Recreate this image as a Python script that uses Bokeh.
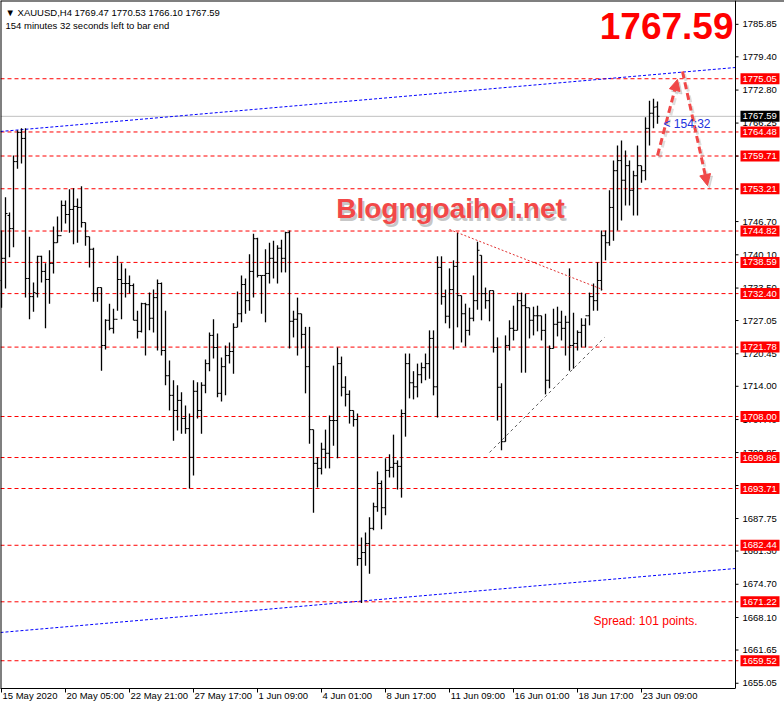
from bokeh.plotting import figure
from bokeh.models import (Range1d, FixedTicker, Label, Span, Arrow, NormalHead, ColumnDataSource)
from bokeh.embed import file_html
from bokeh.resources import INLINE
from bokeh.core.properties import value

# ---------------- data (XAUUSD H4) ----------------
opens = [1735.0, 1739.4, 1747.9, 1745.3, 1758.6, 1764.4, 1763.2, 1735.4, 1731.8, 1732.4,
         1739.8, 1736.8, 1735.2, 1738.4, 1742.5, 1743.9, 1749.9, 1748.1, 1749.1, 1749.7,
         1749.5, 1746.5, 1743.7, 1741.2, 1732.4, 1733.6, 1722.1, 1727.1, 1725.5, 1727.3,
         1735.2, 1734.4, 1734.4, 1734.0, 1727.1, 1724.9, 1730.4, 1730.2, 1727.5, 1731.6,
         1734.4, 1721.1, 1716.1, 1712.2, 1709.2, 1711.2, 1707.6, 1705.6, 1699.9, 1713.0,
         1709.2, 1714.2, 1718.5, 1724.1, 1721.7, 1712.6, 1717.9, 1720.1, 1720.9, 1725.7,
         1728.4, 1734.2, 1731.0, 1736.8, 1743.3, 1736.0, 1736.0, 1736.4, 1739.4, 1738.6,
         1741.4, 1739.4, 1744.5, 1726.9, 1727.3, 1728.4, 1724.3, 1717.9, 1705.4, 1698.7,
         1697.7, 1701.5, 1700.7, 1707.2, 1707.2, 1718.5, 1713.8, 1712.4, 1709.2, 1707.4,
         1679.8, 1681.0, 1682.8, 1685.8, 1690.1, 1694.7, 1689.9, 1697.3, 1697.9, 1698.7,
         1698.1, 1708.6, 1718.5, 1714.7, 1713.9, 1716.3, 1717.7, 1718.5, 1723.5, 1713.9,
         1737.6, 1731.8, 1727.9, 1733.2, 1737.8, 1732.0, 1728.4, 1725.1, 1727.5, 1731.0,
         1740.0, 1732.4, 1731.0, 1733.0, 1721.7, 1713.8, 1703.0, 1722.1, 1725.5, 1725.1,
         1731.0, 1730.0, 1729.6, 1727.1, 1728.0, 1728.0, 1725.1, 1715.2, 1721.5, 1726.3,
         1726.7, 1725.5, 1726.7, 1722.1, 1722.5, 1724.7, 1726.1, 1728.0, 1731.8, 1731.0,
         1735.0, 1743.9, 1742.5, 1749.5, 1756.8, 1758.8, 1754.9, 1757.8, 1752.9, 1755.8,
         1757.8, 1756.8, 1765.2, 1768.2, 1769.47]
highs = [1744.9, 1751.5, 1748.5, 1759.8, 1764.8, 1765.2, 1765.2, 1743.7, 1734.6, 1739.9,
         1739.9, 1738.4, 1741.0, 1745.7, 1747.7, 1750.9, 1750.9, 1753.1, 1753.3, 1751.3,
         1753.7, 1746.5, 1743.7, 1741.5, 1733.6, 1733.6, 1727.3, 1730.4, 1729.4, 1739.9,
         1738.4, 1737.4, 1736.0, 1734.4, 1729.0, 1730.6, 1730.6, 1732.6, 1733.2, 1735.2,
         1734.6, 1729.0, 1719.1, 1715.2, 1714.2, 1712.8, 1710.2, 1708.6, 1715.2, 1714.8,
         1714.8, 1719.3, 1724.7, 1727.3, 1724.5, 1719.7, 1722.1, 1722.7, 1726.5, 1732.8,
         1736.0, 1735.4, 1740.2, 1744.3, 1743.5, 1736.0, 1741.2, 1742.5, 1742.9, 1742.0,
         1743.1, 1744.7, 1744.9, 1729.0, 1731.6, 1728.4, 1725.8, 1725.8, 1705.4, 1699.9,
         1702.8, 1705.4, 1708.2, 1718.1, 1721.7, 1719.9, 1716.0, 1713.2, 1709.2, 1708.6,
         1684.0, 1685.0, 1688.0, 1690.9, 1697.1, 1695.3, 1699.7, 1700.5, 1704.4, 1699.3,
         1709.4, 1720.5, 1720.5, 1717.0, 1718.5, 1718.7, 1720.5, 1725.1, 1725.1, 1739.8,
         1739.8, 1733.2, 1737.4, 1739.0, 1744.5, 1732.0, 1730.4, 1729.6, 1736.0, 1742.7,
         1740.0, 1733.6, 1733.0, 1733.0, 1723.7, 1714.6, 1724.1, 1727.1, 1730.0, 1732.6,
         1732.6, 1732.4, 1729.6, 1729.8, 1730.0, 1728.0, 1728.4, 1722.1, 1729.4, 1729.8,
         1729.0, 1728.0, 1737.4, 1728.6, 1725.1, 1727.5, 1727.5, 1732.6, 1734.4, 1738.6,
         1744.9, 1744.9, 1752.9, 1758.8, 1761.8, 1762.8, 1760.8, 1758.8, 1756.8, 1761.8,
         1757.8, 1767.4, 1770.7, 1771.1, 1770.53]
lows = [1729.6, 1733.4, 1739.6, 1741.6, 1757.2, 1758.2, 1731.6, 1727.3, 1728.8, 1731.6,
        1734.6, 1725.5, 1730.4, 1736.4, 1742.5, 1744.7, 1746.3, 1744.5, 1742.2, 1742.5,
        1745.5, 1741.9, 1737.6, 1730.8, 1730.8, 1717.1, 1721.3, 1725.1, 1724.5, 1729.0,
        1727.3, 1731.6, 1732.4, 1727.1, 1723.5, 1724.7, 1720.1, 1725.1, 1724.7, 1721.1,
        1720.1, 1714.2, 1709.2, 1703.2, 1705.2, 1704.6, 1704.6, 1693.7, 1696.3, 1707.6,
        1704.6, 1712.6, 1717.0, 1719.5, 1711.8, 1711.0, 1712.2, 1718.5, 1716.5, 1725.7,
        1726.7, 1728.4, 1729.0, 1731.6, 1735.6, 1728.4, 1726.7, 1734.4, 1735.4, 1734.4,
        1736.6, 1736.6, 1721.5, 1723.7, 1720.1, 1721.5, 1712.6, 1702.6, 1688.9, 1693.9,
        1696.5, 1697.7, 1697.7, 1702.2, 1699.7, 1712.0, 1710.0, 1706.6, 1706.0, 1678.4,
        1671.0, 1678.4, 1676.8, 1685.4, 1689.1, 1685.6, 1688.4, 1695.9, 1695.9, 1693.5,
        1691.9, 1704.0, 1711.6, 1711.4, 1711.8, 1714.6, 1715.2, 1715.5, 1712.2, 1707.8,
        1730.2, 1726.5, 1725.5, 1721.3, 1725.7, 1722.7, 1721.9, 1724.1, 1726.9, 1729.2,
        1727.1, 1729.4, 1726.9, 1720.7, 1707.2, 1701.3, 1703.0, 1721.1, 1723.1, 1725.1,
        1716.7, 1716.7, 1723.5, 1724.1, 1724.9, 1723.1, 1712.4, 1713.6, 1721.5, 1723.9,
        1723.1, 1720.1, 1717.1, 1717.5, 1721.1, 1721.7, 1721.7, 1726.1, 1729.0, 1729.0,
        1733.0, 1739.0, 1741.9, 1742.9, 1744.9, 1746.9, 1749.9, 1749.9, 1747.9, 1747.9,
        1754.4, 1754.9, 1761.8, 1765.2, 1766.10]
closes = [1739.4, 1748.3, 1745.3, 1758.6, 1764.4, 1763.2, 1735.4, 1731.8, 1732.6, 1739.8,
          1736.8, 1735.2, 1738.4, 1742.5, 1743.9, 1749.9, 1748.1, 1749.1, 1749.7, 1749.5,
          1746.5, 1743.7, 1741.2, 1732.4, 1733.6, 1722.1, 1727.1, 1725.5, 1727.3, 1735.2,
          1734.4, 1734.4, 1734.0, 1727.1, 1724.9, 1730.4, 1730.2, 1727.5, 1731.6, 1734.4,
          1721.1, 1716.1, 1712.2, 1709.2, 1711.2, 1707.6, 1705.6, 1699.9, 1713.0, 1709.2,
          1714.2, 1718.5, 1724.1, 1721.7, 1712.6, 1717.9, 1720.1, 1720.9, 1725.7, 1728.4,
          1734.2, 1731.0, 1736.8, 1743.3, 1736.0, 1736.0, 1736.4, 1739.4, 1738.6, 1741.4,
          1739.4, 1744.5, 1726.9, 1727.3, 1728.4, 1724.3, 1717.9, 1705.4, 1698.7, 1697.7,
          1701.5, 1700.7, 1707.2, 1707.2, 1718.5, 1713.8, 1712.4, 1709.2, 1707.4, 1679.8,
          1681.0, 1682.8, 1685.8, 1690.1, 1694.7, 1689.9, 1697.3, 1697.9, 1698.7, 1698.1,
          1708.6, 1718.5, 1714.7, 1713.9, 1716.3, 1717.7, 1718.5, 1723.5, 1713.9, 1737.6,
          1731.8, 1727.9, 1733.2, 1737.8, 1732.0, 1728.4, 1725.1, 1727.5, 1731.0, 1741.0,
          1732.4, 1731.0, 1733.0, 1721.7, 1713.8, 1703.0, 1722.1, 1725.5, 1725.1, 1731.0,
          1730.0, 1729.6, 1727.1, 1728.0, 1728.0, 1725.1, 1715.2, 1721.5, 1726.3, 1726.7,
          1725.5, 1726.7, 1722.1, 1722.5, 1724.7, 1726.1, 1728.0, 1731.8, 1731.0, 1735.0,
          1743.9, 1742.5, 1749.5, 1756.8, 1758.8, 1754.9, 1757.8, 1752.9, 1755.8, 1757.8,
          1756.8, 1765.2, 1768.2, 1769.4, 1767.59]

bid_price = 1767.59
levels = [1775.05, 1764.48, 1759.71, 1753.21, 1744.82, 1738.59, 1732.40, 1721.78,
          1708.00, 1699.86, 1693.71, 1682.44, 1671.22, 1659.52]
price_ticks = [1785.85, 1779.40, 1772.80, 1766.25, 1759.70, 1753.15, 1746.70, 1740.10,
               1733.50, 1727.05, 1720.45, 1714.00, 1707.40, 1700.85, 1694.30, 1687.75,
               1681.30, 1674.70, 1668.10, 1661.65, 1655.05]
time_tick_bars = [0, 16, 32, 48, 64, 80, 96, 112, 128, 144, 160]
time_labels = ["15 May 2020", "20 May 05:00", "22 May 21:00", "27 May 17:00", "1 Jun 09:00",
               "4 Jun 01:00", "8 Jun 17:00", "11 Jun 09:00", "16 Jun 01:00", "18 Jun 17:00",
               "23 Jun 09:00"]

# drawn objects (bar index, price)
channel_x = [-0.25, 183.5]
channel_upper = [1764.58, 1777.28]
channel_lower = [1665.13, 1677.83]
triangle_top_x = [112.0, 150.25]
triangle_top_y = [1745.12, 1733.21]
triangle_bot_x = [122.0, 150.75]
triangle_bot_y = [1700.86, 1723.69]
forecast_arrows = [(164.0, 1759.81, 169.0, 1774.90),
                   (170.25, 1776.49, 176.5, 1753.86)]

header1 = "\u25BC XAUUSD,H4  1769.47 1770.53 1766.10 1767.59"
header2 = "154 minutes 32 seconds left to bar end"

# ---------------- layout ----------------
X0, X1 = -0.25, 195.75          # frame covers the full window width (4 px per bar)
Y0, Y1 = 1654.01, 1790.58
PX = 4.0
AXIS_X = 183.5                  # price-scale line
FONT = "Liberation Sans"
FS = "9.5px"

p = figure(width=784, height=711, x_range=Range1d(X0, X1), y_range=Range1d(Y0, Y1),
           output_backend="svg", toolbar_location=None, y_axis_location=None,
           min_border_left=0, min_border_top=0, min_border_right=0, min_border_bottom=23,
           background_fill_color="white", border_fill_color="white")
p.xgrid.visible = False
p.ygrid.visible = False
p.outline_line_color = None

# time axis: labels start at the tick (MT4 style)
CW = {c: 0.556 for c in "0123456789"}
CW.update({" ": 0.278, ":": 0.278, "M": 0.833, "a": 0.556, "y": 0.5, "J": 0.5, "u": 0.556, "n": 0.556})
centers = []
for t, lab in zip(time_tick_bars, time_labels):
    w = sum(CW.get(ch, 0.55) for ch in lab) * 9.5
    start_px = max((t - X0) * PX + 1, 1)
    centers.append(round(X0 + (start_px + w / 2) / PX, 3))
xa = p.xaxis[0]
xa.bounds = (X0, AXIS_X)
xa.ticker = FixedTicker(ticks=centers, minor_ticks=time_tick_bars)
xa.major_label_overrides = {c: lab for c, lab in zip(centers, time_labels)}
xa.major_tick_out = 0
xa.major_tick_in = 0
xa.minor_tick_out = 4
xa.minor_tick_in = 0
xa.minor_tick_line_color = "black"
xa.major_label_standoff = -3
xa.major_label_text_font = FONT
xa.major_label_text_font_size = FS
xa.major_label_text_color = "black"
xa.axis_line_color = "black"

# frame borders (left, top) and price-scale line
p.add_layout(Span(location=X0, dimension="height", line_color="black", line_width=2))
p.add_layout(Span(location=Y1, dimension="width", line_color="black", line_width=2))

# horizontal levels and bid line
p.segment(x0=X0, y0=levels, x1=AXIS_X + 0.75, y1=levels, line_color="#FF0000",
          line_dash="4 3", line_width=1)
p.segment(x0=X0, y0=bid_price, x1=AXIS_X + 1.25, y1=bid_price, line_color="#C0C0C0",
          line_width=1)

# channel
p.line(channel_x, channel_upper, line_color="#0000FF", line_dash="3 2", line_width=1)
p.line(channel_x, channel_lower, line_color="#0000FF", line_dash="3 2", line_width=1)

# OHLC bars
idx = list(range(len(opens)))
src = ColumnDataSource(dict(x=idx, o=opens, h=highs, l=lows, c=closes,
                            xl=[i - 0.5 for i in idx], xr=[i + 0.5 for i in idx]))
p.segment(x0="x", y0="l", x1="x", y1="h", source=src, line_color="black", line_width=1.3)
p.segment(x0="xl", y0="o", x1="x", y1="o", source=src, line_color="black", line_width=1)
p.segment(x0="x", y0="c", x1="xr", y1="c", source=src, line_color="black", line_width=1)

# triangle lines
p.line(triangle_top_x, triangle_top_y, line_color="#E03030", line_dash="2 2", line_width=1)
p.line(triangle_bot_x, triangle_bot_y, line_color="#606060", line_dash="3 3", line_width=1)

# price scale (drawn inside the frame)
p.add_layout(Span(location=AXIS_X, dimension="height", line_color="black", line_width=1))
p.segment(x0=AXIS_X, y0=price_ticks, x1=AXIS_X + 0.75, y1=price_ticks, line_color="black",
          line_width=1)
p.text(x=AXIS_X + 1.75, y=price_ticks, text=[f"{t:.2f}" for t in price_ticks],
       text_font=value(FONT), text_font_size=value(FS), text_color="black",
       text_align="left", text_baseline="middle")
box_x = AXIS_X + 6.125
p.rect(x=box_x, y=levels, width=9.75, height=11, height_units="screen",
       fill_color="#FF0000", line_color=None)
p.text(x=AXIS_X + 1.75, y=levels, text=[f"{lv:.2f}" for lv in levels],
       text_font=value(FONT), text_font_size=value(FS), text_color="white",
       text_align="left", text_baseline="middle")
p.rect(x=box_x, y=bid_price, width=9.75, height=11, height_units="screen",
       fill_color="black", line_color=None)
p.text(x=AXIS_X + 1.75, y=bid_price, text=[f"{bid_price:.2f}"],
       text_font=value(FONT), text_font_size=value(FS), text_color="white",
       text_align="left", text_baseline="middle")

# watermark
wm_x, wm_y = 112.25, 1749.29
p.add_layout(Label(x=wm_x, y=wm_y, x_offset=2, y_offset=-3, text="Blogngoaihoi.net",
                   text_font=FONT, text_font_style="bold", text_font_size="28px",
                   text_color="#909090", text_alpha=0.5, text_align="center",
                   text_baseline="middle"))
p.add_layout(Label(x=wm_x, y=wm_y, text="Blogngoaihoi.net", text_font=FONT,
                   text_font_style="bold", text_font_size="28px", text_color="#F24848",
                   text_align="center", text_baseline="middle"))

# forecast arrows
for xs, ys, xe, ye in forecast_arrows:
    p.add_layout(Arrow(x_start=xs + 0.5, y_start=ys - 0.5, x_end=xe + 0.5, y_end=ye - 0.5,
                       line_color="#A0A0A0", line_alpha=0.35, line_width=3, line_dash="7 4",
                       end=NormalHead(size=11, fill_color="#A0A0A0", fill_alpha=0.35,
                                      line_color="#A0A0A0", line_alpha=0.35)))
    p.add_layout(Arrow(x_start=xs, y_start=ys, x_end=xe, y_end=ye,
                       line_color="#F04848", line_width=3, line_dash="7 4",
                       end=NormalHead(size=11, fill_color="#F04848", line_color="#F04848")))

# texts
p.add_layout(Label(x=1.0, y=1788.10, text=header1, text_font=FONT, text_font_size=FS,
                   text_color="black", text_baseline="middle"))
p.add_layout(Label(x=1.0, y=1785.62, text=header2, text_font=FONT, text_font_size=FS,
                   text_color="black", text_baseline="middle"))
p.add_layout(Label(x=183.0, y=1785.42, text=f"{bid_price:.2f}", text_font=FONT,
                   text_font_style="bold", text_font_size="37px", text_color="#FF0000",
                   text_align="right", text_baseline="middle"))
p.add_layout(Label(x=165.5, y=1765.97, text="< 154:32", text_font=FONT,
                   text_font_size="12px", text_color="#2233DD", text_baseline="middle"))
p.add_layout(Label(x=148.0, y=1667.31, text="Spread: 101 points.", text_font=FONT,
                   text_font_size="12px", text_color="#FF0000", text_baseline="middle"))

open("out.html", "w").write(file_html(p, INLINE, "XAUUSD H4"))
